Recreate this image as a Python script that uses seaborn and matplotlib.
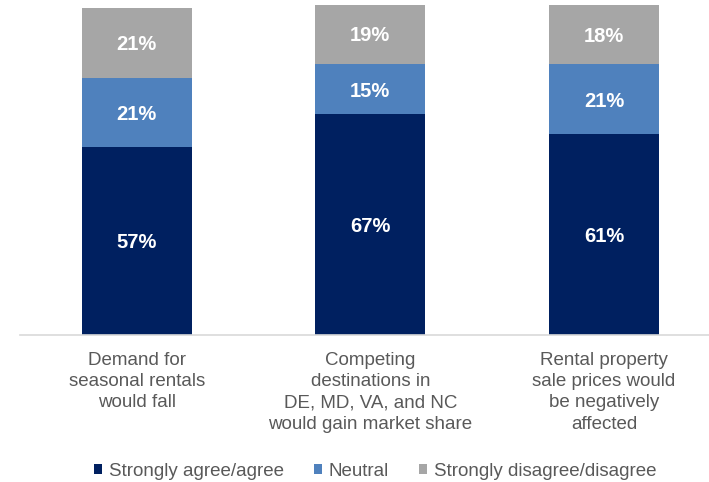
import matplotlib
matplotlib.use("Agg")
import matplotlib.pyplot as plt
from matplotlib.patches import Patch
import seaborn as sns
import pandas as pd

categories = [
    "Demand for\nseasonal rentals\nwould fall",
    "Competing\ndestinations in\nDE, MD, VA, and NC\nwould gain market share",
    "Rental property\nsale prices would\nbe negatively\naffected",
]
agree = [57, 67, 61]
neutral = [21, 15, 21]
disagree = [21, 19, 18]
series_names = ["Strongly agree/agree", "Neutral", "Strongly disagree/disagree"]
colors = ["#002060", "#4F81BD", "#A6A6A6"]

sns.set_theme(style="white")
plt.rcParams["font.family"] = ["Liberation Sans", "DejaVu Sans"]

df = pd.DataFrame({
    "category": categories,
    "agree": agree,
    "neutral": neutral,
    "disagree": disagree,
})
df["cum_neutral"] = df["agree"] + df["neutral"]
df["cum_disagree"] = df["cum_neutral"] + df["disagree"]

fig = plt.figure(figsize=(7.09, 4.82), dpi=100)
ax = fig.add_axes([20 / 709, 147 / 482, 689 / 709, 330 / 482])

# stacked bars: draw cumulative totals back to front
for col, color in zip(["cum_disagree", "cum_neutral", "agree"], colors[::-1]):
    sns.barplot(data=df, x="category", y=col, color=color, width=0.47,
                saturation=1, ax=ax, errorbar=None, linewidth=0)

# segment value labels
for i in range(len(categories)):
    bottoms = [0, agree[i], agree[i] + neutral[i]]
    for b, v in zip(bottoms, [agree[i], neutral[i], disagree[i]]):
        ax.text(i, b + v / 2, f"{v}%", ha="center", va="center_baseline",
                color="white", fontsize=14.5, fontweight="bold")

ax.set_xlim(-0.5, 2.45)
ax.set_ylim(0, 100)
ax.set_xlabel("")
ax.set_ylabel("")
ax.set_yticks([])
ax.tick_params(axis="x", length=0, pad=12, labelsize=13.5, labelcolor="#595959")
for lbl in ax.get_xticklabels():
    lbl.set_linespacing(1.33)
for s in ["top", "right", "left"]:
    ax.spines[s].set_visible(False)
ax.spines["bottom"].set_color("#D9D9D9")
ax.spines["bottom"].set_linewidth(1.2)

handles = [Patch(facecolor=c, edgecolor="none") for c in colors]
fig.legend(handles, series_names, loc="center", bbox_to_anchor=(375 / 709, 1 - 471 / 482),
           ncol=3, frameon=False, fontsize=13.5, handlelength=0.45, handleheight=0.45,
           handletextpad=0.35, columnspacing=1.6, labelcolor="#595959",
           borderpad=0, borderaxespad=0)

fig.savefig("out.png", dpi=100)
